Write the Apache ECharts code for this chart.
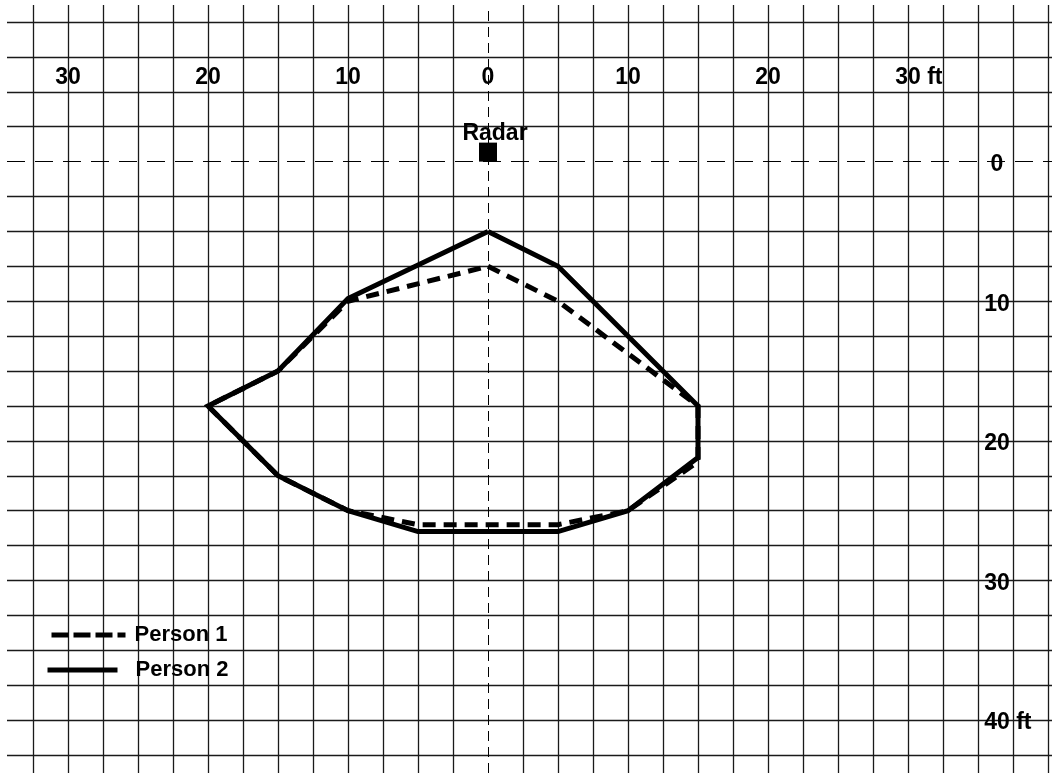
<!DOCTYPE html>
<html>
<head>
<meta charset="utf-8">
<script src="https://cdn.jsdelivr.net/npm/echarts@6/dist/echarts.min.js"></script>
<style>
  html, body { margin: 0; padding: 0; background: #fff; }
  #chart { width: 1052px; height: 773px; }
</style>
</head>
<body>
<div id="chart"></div>
<script>
// ---- data ----
const xTickValues = [-30, -20, -10, 0, 10, 20, 30];
const xTickLabels = ['30', '20', '10', '0', '10', '20', '30 ft'];
const yTickValues = [0, 10, 20, 30, 40];
const yTickLabels = ['0', '10', '20', '30', '40 ft'];
const seriesNames = ['Person 1', 'Person 2'];
const person1 = [[0, 7.5], [5, 10], [15, 17.5], [15, 21.5], [10, 25], [5, 26], [-5, 26], [-10, 25], [-15, 22.5], [-20, 17.5], [-15, 15], [-10, 10], [0, 7.5]];
const person2 = [[0, 5], [5, 7.5], [15, 17.5], [15, 21.2], [10, 25], [5, 26.5], [-5, 26.5], [-10, 25], [-15, 22.5], [-20, 17.5], [-15, 15], [-10, 9.8], [0, 5]];
const radarName = 'Radar';
const radarPoint = [[0, 0]];
const xRange = [-32.5, 40];
const yRange = [-10, 42.5];
const gridStep = 2.5;

// ---- styling helpers ----
const FONT = "'Liberation Sans', Arial, sans-serif";
const GRID_COLOR = '#1a1a1a';
function lineColors(range, step) {
  const out = [];
  for (let v = range[0]; v <= range[1] + 1e-9; v += step) {
    out.push(Math.abs(v) < 1e-9 ? 'rgba(0,0,0,0)' : GRID_COLOR);
  }
  return out;
}
const richText = {
  n: { fontSize: 23, fontWeight: 'bold', fontFamily: FONT, color: '#000' },
  h: { fontSize: 23, fontWeight: 'bold', fontFamily: FONT, color: 'rgba(0,0,0,0)' }
};
function tickFormatter(values, labels) {
  return function (v) {
    const i = values.indexOf(v);
    if (i < 0) return '';
    const parts = labels[i].split(' ');
    if (parts.length > 1) {
      return '{h|' + parts[1] + ' }{n|' + parts[0] + '}{n| ' + parts[1] + '}';
    }
    return '{n|' + parts[0] + '}';
  };
}
const hiddenAxis = (gridIndex, extra) => Object.assign({ type: 'value', gridIndex, show: false, min: 0, max: 1 }, extra || {});
const noSymbolStyle = { color: 'rgba(0,0,0,0)', borderColor: 'rgba(0,0,0,0)', borderWidth: 0 };

const chart = echarts.init(document.getElementById('chart'), null, { renderer: 'canvas' });
chart.setOption({
  backgroundColor: '#fff',
  animation: false,
  grid: [
    { left: 33, right: 4, top: 22, bottom: 18 },   // 0: data
    { left: 7, right: 0, top: 22, bottom: 18 },    // 1: horizontal grid lines
    { left: 33, right: 4, top: 5, bottom: 0 },     // 2: vertical grid lines
    { left: 33, right: 4, top: 78, height: 1 },    // 3: x tick labels
    { left: 997, width: 1, top: 25, bottom: 15 }   // 4: y tick labels
  ],
  xAxis: [
    hiddenAxis(0, { min: xRange[0], max: xRange[1] }),
    hiddenAxis(1),
    {
      type: 'value', gridIndex: 2, min: xRange[0], max: xRange[1], interval: gridStep,
      axisLine: { show: false }, axisTick: { show: false }, axisLabel: { show: false },
      splitLine: { show: true, lineStyle: { color: lineColors(xRange, gridStep), width: 1.3 } }
    },
    {
      type: 'value', gridIndex: 3, position: 'top', min: xRange[0], max: xRange[1],
      axisLine: { show: false }, axisTick: { show: false }, splitLine: { show: false },
      axisLabel: {
        show: true, customValues: xTickValues, margin: 0, verticalAlign: 'middle',
        formatter: tickFormatter(xTickValues, xTickLabels), rich: richText
      }
    },
    hiddenAxis(4)
  ],
  yAxis: [
    hiddenAxis(0, { inverse: true, min: yRange[0], max: yRange[1] }),
    {
      type: 'value', gridIndex: 1, inverse: true, min: yRange[0], max: yRange[1], interval: gridStep,
      axisLine: { show: false }, axisTick: { show: false }, axisLabel: { show: false },
      splitLine: { show: true, lineStyle: { color: lineColors(yRange, gridStep), width: 1.3 } }
    },
    hiddenAxis(2),
    hiddenAxis(3),
    {
      type: 'value', gridIndex: 4, position: 'left', inverse: true, min: yRange[0], max: yRange[1],
      axisLine: { show: false }, axisTick: { show: false }, splitLine: { show: false },
      axisLabel: {
        show: true, customValues: yTickValues, margin: 0, align: 'center',
        formatter: tickFormatter(yTickValues, yTickLabels), rich: richText
      }
    }
  ],
  legend: [
    {
      data: [seriesNames[0]], left: 49, top: 623, padding: 0, selectedMode: false,
      itemWidth: 74, itemHeight: 14,
      itemStyle: noSymbolStyle,
      lineStyle: { type: [17, 5], width: 5, color: '#000' },
      textStyle: { fontSize: 22, fontWeight: 'bold', fontFamily: FONT, color: '#000', padding: [0, 0, 0, 4], lineHeight: 24 }
    },
    {
      data: [seriesNames[1]], left: 45, top: 658, padding: 0, selectedMode: false,
      itemWidth: 70, itemHeight: 14,
      itemStyle: noSymbolStyle,
      lineStyle: { type: 'solid', width: 5, color: '#000' },
      textStyle: { fontSize: 22, fontWeight: 'bold', fontFamily: FONT, color: '#000', padding: [0, 0, 0, 13], lineHeight: 24 }
    }
  ],
  series: [
    {
      name: 'hgrid0', type: 'line', xAxisIndex: 1, yAxisIndex: 1, data: [], silent: true,
      markLine: {
        silent: true, symbol: 'none', label: { show: false },
        lineStyle: { color: '#000', width: 1, type: [18, 10] },
        data: [{ yAxis: 0 }]
      }
    },
    {
      name: 'vgrid0', type: 'line', xAxisIndex: 2, yAxisIndex: 2, data: [], silent: true,
      markLine: {
        silent: true, symbol: 'none', label: { show: false },
        lineStyle: { color: '#000', width: 1, type: [10, 6] },
        data: [{ xAxis: 0 }]
      }
    },
    {
      name: seriesNames[1], type: 'line', xAxisIndex: 0, yAxisIndex: 0, data: person2,
      symbol: 'none', z: 3,
      itemStyle: { color: '#000' },
      lineStyle: { color: '#000', width: 5, type: 'solid', join: 'miter' }
    },
    {
      name: seriesNames[0], type: 'line', xAxisIndex: 0, yAxisIndex: 0, data: person1,
      symbol: 'none', z: 4,
      itemStyle: { color: '#000' },
      lineStyle: { color: '#000', width: 5, type: [13, 8], join: 'miter' }
    },
    {
      name: radarName, type: 'scatter', xAxisIndex: 0, yAxisIndex: 0, data: radarPoint,
      symbol: 'rect', symbolSize: [18, 19], symbolOffset: [0, -9.5], z: 5,
      itemStyle: { color: '#000', opacity: 1 },
      label: {
        show: true, position: 'top', distance: -3, offset: [7, 0],
        formatter: radarName, fontSize: 23, fontWeight: 'bold', fontFamily: FONT, color: '#000'
      }
    }
  ]
});
</script>
</body>
</html>
